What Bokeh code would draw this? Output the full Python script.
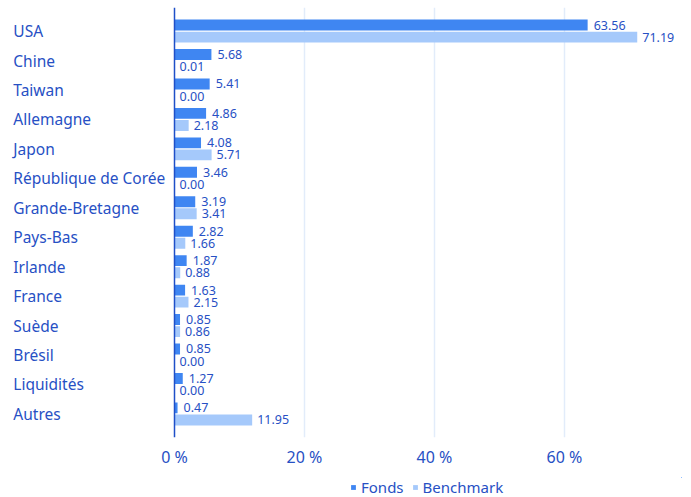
from bokeh.plotting import figure
from bokeh.layouts import column
from bokeh.models import (ColumnDataSource, Range1d, FixedTicker, LabelSet,
                          Legend, LegendItem, Span)
from bokeh.core.properties import value
from bokeh.transform import dodge
from bokeh.embed import file_html
from bokeh.resources import INLINE

categories = ["USA", "Chine", "Taiwan", "Allemagne", "Japon", "République de Corée",
              "Grande-Bretagne", "Pays-Bas", "Irlande", "France", "Suède", "Brésil",
              "Liquidités", "Autres"]
fonds = [63.56, 5.68, 5.41, 4.86, 4.08, 3.46, 3.19, 2.82, 1.87, 1.63, 0.85, 0.85, 1.27, 0.47]
benchmark = [71.19, 0.01, 0.00, 2.18, 5.71, 0.00, 3.41, 1.66, 0.88, 2.15, 0.86, 0.00, 0.00, 11.95]
tick_values = [0, 20, 40, 60]
tick_labels = ["0 %", "20 %", "40 %", "60 %"]
series_names = ["Fonds", "Benchmark"]

FONT = "Noto Sans"
TEXT = "#2750c4"
C_FONDS = "#3f86f2"
C_BENCH = "#a5c9fb"

src = ColumnDataSource(dict(
    idx=list(range(len(categories))),
    cat=categories,
    fonds=fonds,
    bench=benchmark,
    fonds_lbl=["%.2f" % v for v in fonds],
    bench_lbl=["%.2f" % v for v in benchmark],
))

# ---- main chart ----
p = figure(width=691, height=477, output_backend="svg", toolbar_location=None,
           x_range=Range1d(-26, 78), y_range=Range1d(13.8, -0.8),
           min_border_left=5, min_border_right=10, min_border_top=7,
           min_border_bottom=40)
p.outline_line_color = None

p.ygrid.grid_line_color = None
p.xgrid.ticker = FixedTicker(ticks=tick_values[1:])
p.xgrid.grid_line_color = "#e2ecfa"
p.xgrid.grid_line_width = 1.5

off = 0.205
p.hbar(y=dodge("idx", -off), left=0, right="fonds", height=0.37,
       fill_color=C_FONDS, line_color=None, source=src)
p.hbar(y=dodge("idx", off), left=0, right="bench", height=0.37,
       fill_color=C_BENCH, line_color=None, source=src)

p.add_layout(Span(location=0, dimension="height", line_color="#1f4fc8", line_width=1.5))

p.add_layout(LabelSet(x="fonds", y=dodge("idx", -off), text="fonds_lbl", source=src,
                      x_offset=6, text_baseline="middle", text_align="left",
                      text_font=value(FONT), text_font_size="12.5px", text_color=TEXT))
p.add_layout(LabelSet(x="bench", y=dodge("idx", off), text="bench_lbl", source=src,
                      x_offset=5, text_baseline="middle", text_align="left",
                      text_font=value(FONT), text_font_size="12.5px", text_color=TEXT))
p.text(x=-24.8, y="idx", text="cat", source=src,
       text_baseline="middle", text_align="left",
       text_font=value(FONT), text_font_size="15.5px", text_color=TEXT)

p.xaxis.ticker = FixedTicker(ticks=tick_values)
p.xaxis.major_label_overrides = {v: l for v, l in zip(tick_values, tick_labels)}
p.xaxis.axis_line_color = None
p.xaxis.major_tick_line_color = None
p.xaxis.minor_tick_line_color = None
p.xaxis.major_label_standoff = 2
p.xaxis.major_label_text_font = FONT
p.xaxis.major_label_text_font_size = "16px"
p.xaxis.major_label_text_color = TEXT
p.yaxis.visible = False

# ---- legend strip (its bars lie far outside the strip's visible ranges) ----
leg = figure(width=691, height=20, output_backend="svg", toolbar_location=None,
             x_range=Range1d(-1000, -999), y_range=Range1d(-1000, -999),
             x_axis_type=None, y_axis_type=None,
             min_border_left=5, min_border_right=10, min_border_top=0,
             min_border_bottom=0)
leg.outline_line_color = None
leg.grid.grid_line_color = None
g1 = leg.hbar(y="idx", left=0, right="fonds", height=0.37,
              fill_color=C_FONDS, line_color=None, source=src)
g2 = leg.hbar(y="idx", left=0, right="bench", height=0.37,
              fill_color=C_BENCH, line_color=None, source=src)

legend = Legend(items=[LegendItem(label=series_names[0], renderers=[g1]),
                       LegendItem(label=series_names[1], renderers=[g2])],
                location=(345, 0), orientation="horizontal",
                border_line_color=None, background_fill_alpha=0,
                padding=0, margin=0, glyph_width=6, glyph_height=6,
                label_standoff=5, spacing=8, label_height=14,
                label_text_font=FONT, label_text_font_size="15px",
                label_text_color=TEXT)
leg.add_layout(legend)

layout = column(p, leg, spacing=0)
open("out.html", "w").write(file_html(layout, INLINE))
